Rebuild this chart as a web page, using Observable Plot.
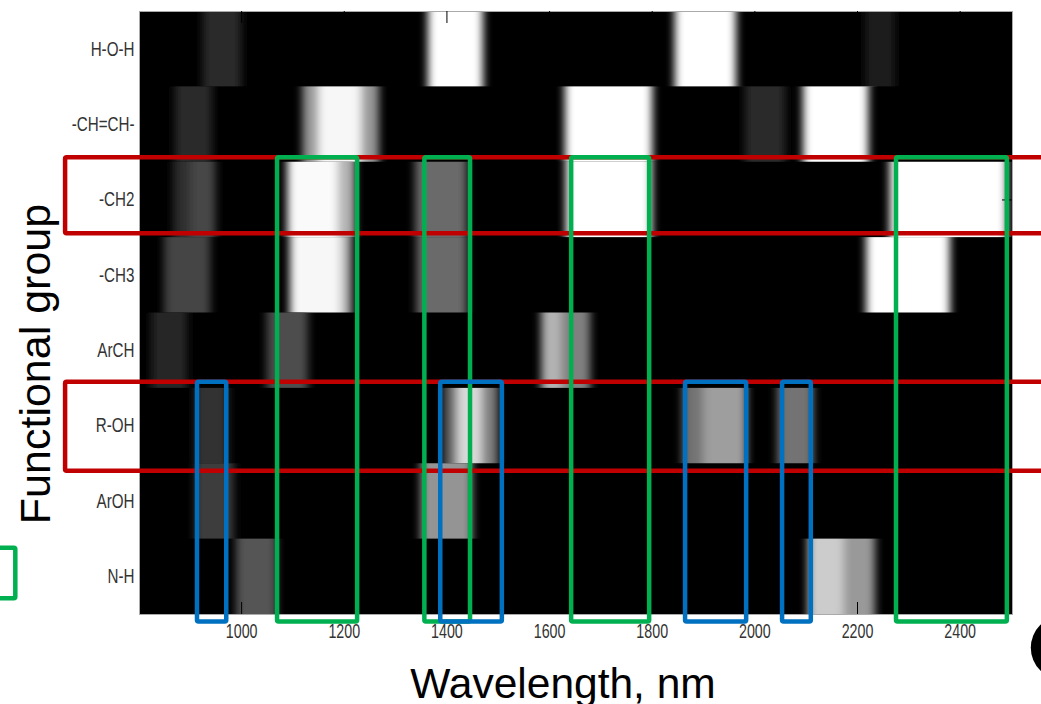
<!DOCTYPE html>
<html><head><meta charset="utf-8">
<script src="https://cdn.jsdelivr.net/npm/d3@7"></script>
<script src="https://cdn.jsdelivr.net/npm/@observablehq/plot@0.6"></script>
<style>html,body{margin:0;padding:0;overflow:hidden;background:#fff}</style>
</head><body><div id="chart"></div>
<script>
// Functional groups (rows, top to bottom)
const groups = ["H-O-H", "-CH=CH-", "-CH2", "-CH3", "ArCH", "R-OH", "ArOH", "N-H"];
// Wavelength tick labels (nm)
const xTicks = [1000, 1200, 1400, 1600, 1800, 2000, 2200, 2400];
// Absorption bands: [row index, start nm, end nm, relative intensity 0..1]
const bands = [
  [0, 925, 1000, 0.16], [0, 1364, 1471, 1.0], [0, 1845, 1964, 1.0], [0, 2216, 2274, 0.12],
  [1, 871, 943, 0.17], [1, 1120, 1150, 0.6], [1, 1150, 1235, 0.97], [1, 1235, 1268, 0.6],
  [1, 1631, 1801, 1.0], [1, 1982, 2060, 0.17], [1, 2095, 2222, 1.0],
  [2, 868, 900, 0.18], [2, 900, 950, 0.28], [2, 1090, 1190, 0.98], [2, 1190, 1222, 0.7],
  [2, 1339, 1440, 0.42], [2, 1633, 1800, 1.0], [2, 2264, 2492, 1.0],
  [3, 850, 940, 0.27], [3, 1095, 1195, 0.97], [3, 1195, 1215, 0.7], [3, 1342, 1440, 0.42],
  [3, 2218, 2381, 1.0],
  [4, 825, 895, 0.15], [4, 1050, 1130, 0.3], [4, 1585, 1625, 0.7], [4, 1625, 1680, 0.5],
  [5, 910, 975, 0.2], [5, 1395, 1420, 0.4], [5, 1420, 1470, 0.85], [5, 1470, 1500, 0.5],
  [5, 1860, 1900, 0.45], [5, 1900, 1985, 0.62], [5, 2045, 2115, 0.45],
  [6, 910, 985, 0.24], [6, 1350, 1450, 0.58],
  [7, 990, 1070, 0.33], [7, 2105, 2175, 0.8], [7, 2175, 2235, 0.6]
];
// Highlight boxes: [start nm, end nm, top row, bottom row]
const redBoxes = [[657, 2800, 1.94, 2.95], [657, 2800, 4.92, 6.10]];
const greenBoxes = [[1070, 1226, 1.94, 8.1], [1357, 1446, 1.94, 8.1], [1643, 1795, 1.94, 8.1], [2276, 2492, 1.94, 8.1], [470, 560, 7.12, 7.79]];
const blueBoxes = [[914, 971, 4.92, 8.1], [1388, 1508, 4.92, 8.1], [1865, 1984, 4.92, 8.1], [2054, 2110, 4.92, 8.1]];
const blackDots = [[2600, 8.44]];

const W = 1041, H = 704;
const mL = 139, mR = 29, mT = 11, mB = 90;
const plotH = H - mT - mB, plotW = W - mL - mR;
const tickFont = '"Liberation Sans", Arial, sans-serif';

const chart = Plot.plot({
  width: W, height: H,
  marginLeft: mL, marginRight: mR, marginTop: mT, marginBottom: mB,
  style: {background: "#fff", overflow: "visible"},
  x: {domain: [801, 2502]},
  y: {domain: [8, 0]},
  color: {type: "linear", domain: [0, 1], range: ["#000", "#fff"]},
  marks: [
    Plot.frame({fill: "black"}),
    Plot.rect(bands, {x1: d => d[1], x2: d => d[2], y1: d => d[0], y2: d => d[0] + 1, fill: d => d[3], clip: true}),
    Plot.frame({stroke: "#aaa", strokeWidth: 1}),
    Plot.ruleX(xTicks, {x: d => d, insetTop: plotH - 12, stroke: "black"}),
    Plot.ruleX(xTicks, {x: d => d, insetBottom: plotH - 12, stroke: "black"}),
    Plot.ruleY(groups.map((g, i) => i + 0.5), {y: d => d, insetLeft: plotW - 10, stroke: "black"}),
    Plot.axisX(xTicks, {anchor: "bottom", tickSize: 0, tickPadding: 9, fontSize: 21, fontFamily: tickFont, fill: "#333", label: null, tickFormat: d => String(d)}),
    Plot.axisY(groups.map((g, i) => i + 0.5), {anchor: "left", tickSize: 0, tickPadding: 5, fontSize: 20, fontFamily: tickFont, fill: "#333", label: null, tickFormat: d => groups[Math.floor(d)]}),
    Plot.text(["Wavelength, nm"], {frameAnchor: "bottom", text: d => d, textAnchor: "middle", dx: -13, dy: 83, lineAnchor: "bottom", fontSize: 42.5, fontFamily: "Liberation Sans, Arial, sans-serif", fill: "#000"}),
    Plot.text(["Functional group"], {frameAnchor: "left", text: d => d, textAnchor: "middle", rotate: -90, dx: -90, dy: 51, lineAnchor: "bottom", fontSize: 43, fontFamily: "Liberation Sans, Arial, sans-serif", fill: "#000"}),
    Plot.rect(redBoxes, {x1: d => d[0], x2: d => d[1], y1: d => d[2], y2: d => d[3], fill: "none", stroke: "#c00000", strokeWidth: 4.5, rx: 1.5}),
    Plot.rect(greenBoxes, {x1: d => d[0], x2: d => d[1], y1: d => d[2], y2: d => d[3], fill: "none", stroke: "#00b050", strokeWidth: 4.5, rx: 1.5}),
    Plot.rect(blueBoxes, {x1: d => d[0], x2: d => d[1], y1: d => d[2], y2: d => d[3], fill: "none", stroke: "#0070c0", strokeWidth: 4.5, rx: 1.5}),
    Plot.dot(blackDots, {x: d => d[0], y: d => d[1], r: 32, fill: "black", stroke: "none"})
  ]
});

// horizontal-only blur for the spectral bands (MATLAB-like interpolated image)
const ns = "http://www.w3.org/2000/svg";
const defs = document.createElementNS(ns, "defs");
const filter = document.createElementNS(ns, "filter");
filter.setAttribute("id", "hblur");
filter.setAttribute("filterUnits", "userSpaceOnUse");
filter.setAttribute("x", "0"); filter.setAttribute("y", "0");
filter.setAttribute("width", String(W)); filter.setAttribute("height", String(H));
const blur = document.createElementNS(ns, "feGaussianBlur");
blur.setAttribute("stdDeviation", "4 0");
filter.appendChild(blur);
defs.appendChild(filter);
chart.insertBefore(defs, chart.firstChild);
const bandG = chart.querySelectorAll('g[aria-label="rect"]')[0];
if (bandG) {
  const inner = document.createElementNS(ns, "g");
  inner.setAttribute("filter", "url(#hblur)");
  while (bandG.firstChild) inner.appendChild(bandG.firstChild);
  bandG.appendChild(inner);
}
// narrow (condensed) tick label glyphs, as in the original figure
chart.querySelectorAll('g[aria-label="x-axis tick label"] text').forEach(t => {
  t.setAttribute("transform", (t.getAttribute("transform") || "") + " scale(0.68,1)");
});
chart.querySelectorAll('g[aria-label="y-axis tick label"] text').forEach(t => {
  t.setAttribute("transform", (t.getAttribute("transform") || "") + " scale(0.76,1)");
});
document.getElementById("chart").appendChild(chart);
</script>
</body></html>
